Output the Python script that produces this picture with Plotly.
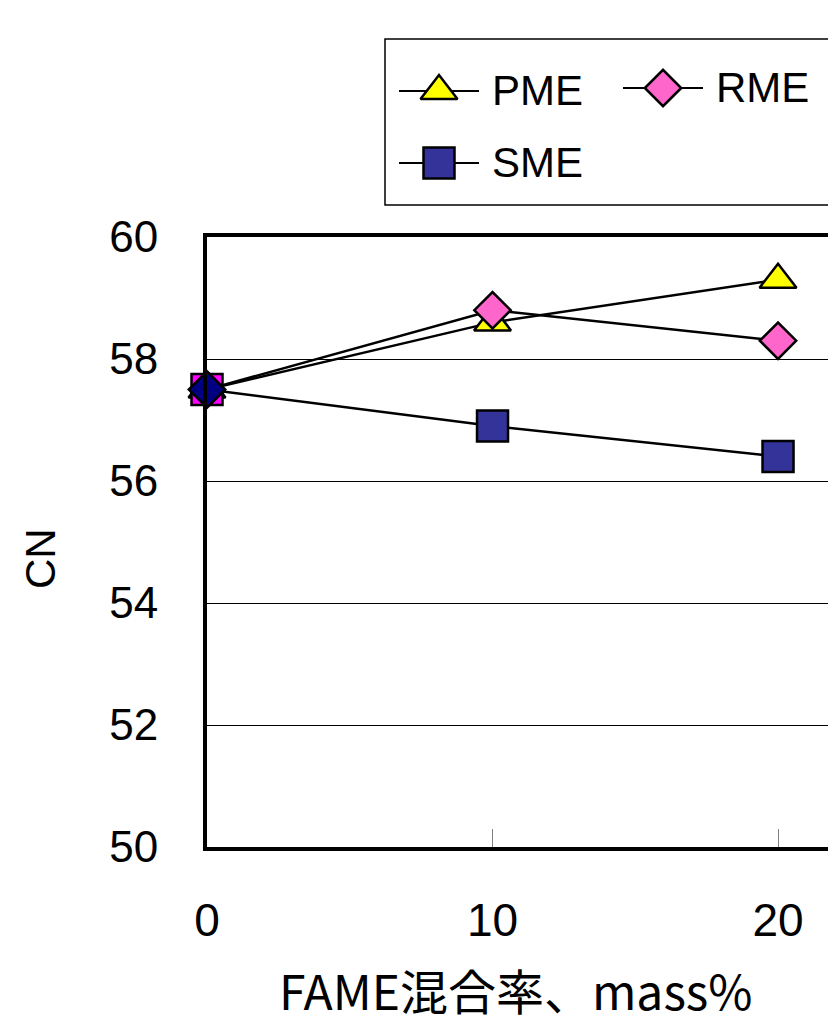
import plotly.graph_objects as go

# ---- data ----
blend = [0, 10, 20]                 # FAME混合率, mass%
pme = [57.5, 58.6, 59.3]
rme = [57.5, 58.8, 58.3]
sme = [57.5, 56.9, 56.4]
y_ticks = [50, 52, 54, 56, 58, 60]
x_ticks = [0, 10, 20]

W, H = 828, 1026
# plot area in pixels
PL, PR, PT, PB = 207, 828, 237, 847

fig = go.Figure()

line_style = dict(color="black", width=2.5)
mk_line = dict(color="black", width=2.5)

# series (draw order PME, SME, RME as in reference)
fig.add_trace(go.Scatter(
    x=blend, y=pme, mode="lines+markers", name="PME", line=line_style,
    marker=dict(symbol="triangle-up", size=32, color=["#FFFF00"] * 3, line=mk_line),
    cliponaxis=False, showlegend=False))
fig.add_trace(go.Scatter(
    x=blend, y=sme, mode="lines+markers", name="SME", line=line_style,
    marker=dict(symbol="square", size=31, color=["#FF00FF", "#333399", "#333399"], line=mk_line),
    cliponaxis=False, showlegend=False))
fig.add_trace(go.Scatter(
    x=blend, y=rme, mode="lines+markers", name="RME", line=line_style,
    marker=dict(symbol="diamond", size=28, color=["#000080", "#FF66CC", "#FF66CC"], line=mk_line),
    cliponaxis=False, showlegend=False))

# ---- manual legend on a pixel-coordinate overlay axis ----
legend_items = [
    ("PME", "triangle-up", "#FFFF00", 399, 91, 32),
    ("RME", "diamond", "#FF66CC", 623, 88, 28),
    ("SME", "square", "#333399", 399, 163, 31),
]
for name, sym, col, x0, yc, sz in legend_items:
    fig.add_trace(go.Scatter(x=[x0, x0 + 80], y=[yc, yc], mode="lines",
                             line=dict(color="black", width=2),
                             xaxis="x2", yaxis="y2", showlegend=False, hoverinfo="skip",
                             cliponaxis=False))
    fig.add_trace(go.Scatter(x=[x0 + 40], y=[yc], mode="markers",
                             marker=dict(symbol=sym, size=sz, color=col, line=mk_line),
                             xaxis="x2", yaxis="y2", showlegend=False, hoverinfo="skip",
                             cliponaxis=False))
    fig.add_annotation(x=x0 + 91, y=yc - 1, xref="x2", yref="y2", text=name,
                       showarrow=False, xanchor="left", yanchor="middle",
                       font=dict(family="Liberation Sans, Arial", size=42, color="black"))

fig.add_shape(type="rect", xref="x2", yref="y2", x0=385, x1=850, y0=39, y1=205,
              line=dict(color="black", width=1.5), fillcolor="rgba(0,0,0,0)")

# axis titles
fig.add_annotation(x=516 / W, y=1 - 989 / H, xref="paper", yref="paper",
                   text="FAME混合率、mass%", showarrow=False,
                   xanchor="center", yanchor="middle", borderpad=0,
                   font=dict(family="Noto Sans CJK JP", size=48, color="black"))
fig.add_annotation(x=40 / W, y=1 - 559 / H, xref="paper", yref="paper",
                   text="CN", showarrow=False, textangle=-90,
                   xanchor="center", yanchor="middle",
                   font=dict(family="Liberation Sans, Arial", size=42, color="black"))

fig.update_layout(
    width=W, height=H,
    margin=dict(l=0, r=0, t=0, b=0, autoexpand=False),
    paper_bgcolor="white", plot_bgcolor="rgba(0,0,0,0)",
    showlegend=False,
    xaxis=dict(domain=[PL / W, PR / W], range=[0, 21.75], automargin=False,
               tickvals=x_ticks, ticks="inside", ticklen=18, tickwidth=1, tickcolor="#808080",
               showline=True, linewidth=4, linecolor="black", mirror=True,
               showgrid=False, zeroline=False, ticklabelstandoff=30,
               tickfont=dict(family="Liberation Sans, Arial", size=46, color="black")),
    yaxis=dict(domain=[1 - PB / H, 1 - PT / H], range=[50, 60], automargin=False,
               tickvals=y_ticks, ticks="", showline=True, linewidth=4, linecolor="black",
               mirror=False, showgrid=True, gridcolor="black", gridwidth=1,
               zeroline=False, ticklabelstandoff=36,
               tickfont=dict(family="Liberation Sans, Arial", size=44, color="black")),
    xaxis2=dict(domain=[0, 1], range=[0, W], visible=False, anchor="y2", automargin=False),
    yaxis2=dict(domain=[0, 1], range=[H, 0], visible=False, anchor="x2", automargin=False),
)

fig.write_html("out.html")
